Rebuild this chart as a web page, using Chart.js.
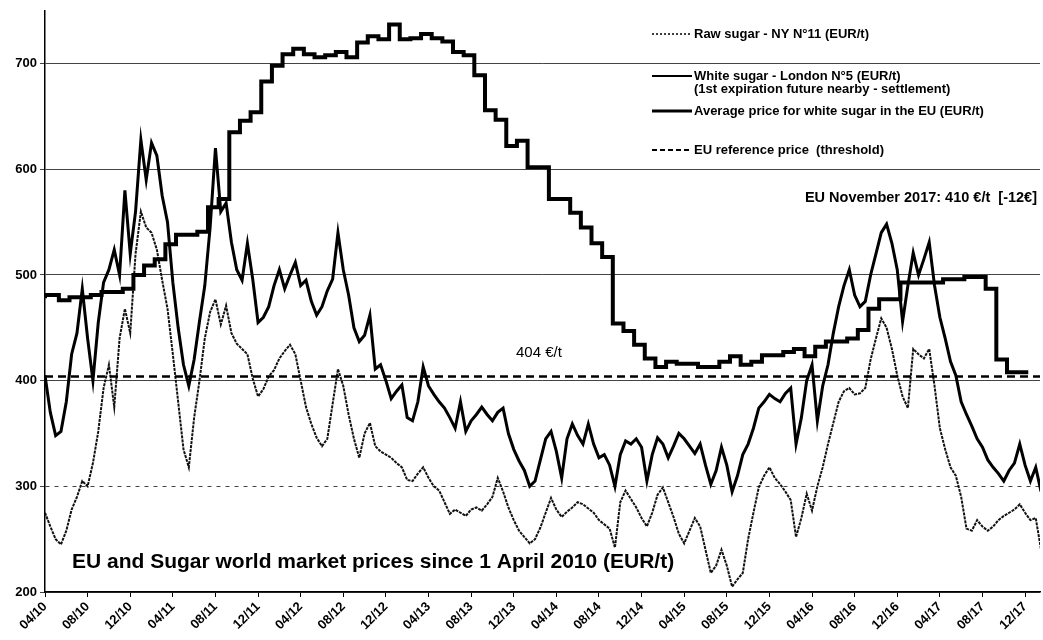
<!DOCTYPE html>
<html>
<head>
<meta charset="utf-8">
<script src="https://cdn.jsdelivr.net/npm/chart.js@4.4.0/dist/chart.umd.js"></script>
<style>
  html, body { margin: 0; padding: 0; background: #fff; }
  #chart { display: block; }
</style>
</head>
<body>
<canvas id="chart" width="1043" height="640"></canvas>
<script>
// x axis: months since 1 April 2010, one tick label every 4 months
const tickLabels = ['04/10', '08/10', '12/10', '04/11', '08/11', '12/11', '04/12', '08/12',
  '12/12', '04/13', '08/13', '12/13', '04/14', '08/14', '12/14', '04/15', '08/15', '12/15',
  '04/16', '08/16', '12/16', '04/17', '08/17', '12/17'];

// White sugar - London N°5 (EUR/t), read twice a month (1st and 16th)
const whiteSugar = [
  405, 370, 348, 352, 380, 425, 445, 487,
  440, 400, 455, 493, 505, 524, 500, 580,
  520, 560, 628, 590, 625, 613, 575, 550,
  493, 450, 415, 395, 420, 456, 490, 545,
  620, 560, 568, 531, 505, 495, 530, 496,
  455, 460, 470, 490, 505, 487, 500, 512,
  490, 495, 475, 462, 470, 485, 496, 540,
  505, 481, 450, 437, 443, 462, 411, 415,
  400, 383, 390, 396, 365, 362, 380, 413,
  395, 387, 380, 374, 365, 355, 380, 352,
  362, 368, 375, 368, 362, 370, 374, 350,
  335, 324, 315, 300, 305, 325, 345, 352,
  333, 308, 345, 359, 348, 340, 359, 340,
  327, 330, 320, 300, 330, 343, 340, 345,
  337, 305, 330, 346, 340, 327, 338, 350,
  345, 338, 331, 340, 320, 302, 315, 337,
  320, 295, 310, 330, 340, 355, 374, 380,
  387, 383, 380, 388, 393, 340, 365, 400,
  415, 362, 395, 415, 445, 470, 490, 505,
  481, 470, 475, 500, 520, 540, 548, 530,
  505, 456, 490, 521, 500, 515, 531, 490,
  460, 440, 418, 405, 380, 368, 357, 345,
  337, 325, 318, 312, 305, 315, 322, 340,
  320, 305, 318, 295
];

// Raw sugar - NY N°11 (EUR/t), same dates
const rawSugar = [
  275, 262, 250, 245, 258, 278, 290, 305,
  300, 322, 352, 393, 415, 375, 440, 468,
  445, 520, 560, 545, 540, 524, 495, 468,
  425, 380, 335, 318, 365, 400, 440, 465,
  477, 453, 471, 445, 435, 430, 425, 402,
  385, 392, 404, 410, 421, 428, 434, 425,
  400, 375, 359, 346, 338, 345, 378, 411,
  395, 368, 345, 327, 350, 360, 338, 333,
  330, 327, 322, 318, 306, 305, 312, 318,
  308, 300, 296, 285, 274, 278, 275, 272,
  278, 280, 277, 283, 290, 308, 295, 280,
  268, 258, 252, 246, 250, 261, 275, 289,
  278, 271, 276, 280, 285, 283, 279, 275,
  268, 264, 260, 242, 285, 296, 288, 280,
  270, 262, 275, 292, 299, 285, 271, 255,
  246, 258, 270, 262, 240, 218, 225, 240,
  225, 205, 212, 218, 250, 275, 299, 310,
  318, 308, 302, 295, 287, 252, 270, 293,
  277, 300, 318, 340, 360, 380, 390, 393,
  387, 388, 393, 420, 440, 459, 450, 430,
  405, 385, 374, 430, 425, 421, 430, 395,
  355, 335, 318, 310, 290, 260, 258, 268,
  262, 258, 262, 268, 272, 275, 278, 283,
  275, 268, 270, 240
];

// Average price for white sugar in the EU (EUR/t), monthly Apr 2010 - Nov 2017
const euAverage = [
  478, 481, 476, 479, 479, 481, 484, 484, 487, 500, 509, 515,
  529, 538, 538, 541, 564, 572, 635, 646, 654, 683, 698, 709,
  714, 709, 706, 708, 711, 706, 720, 726, 723, 737, 723, 724,
  728, 724, 721, 711, 708, 689, 656, 647, 622, 627, 602, 602,
  572, 572, 559, 545, 530, 517, 454, 447, 434, 421, 413, 418,
  416, 416, 413, 413, 418, 423, 415, 418, 424, 424, 427, 430,
  423, 432, 437, 437, 440, 448, 468, 477, 477, 493, 493, 493,
  493, 496, 496, 498, 498, 487, 420, 408
];

const euReference = 404;
const xMax = 93.4;

Chart.defaults.font.family = "'Liberation Sans', Arial, sans-serif";
Chart.defaults.color = '#000';

const halfMonthly = arr => arr.map((v, i) => ({ x: i / 2, y: v }));

// monthly EU steps start a little after the 1st of the month
const euPoints = euAverage.map((v, i) => ({ x: i === 0 ? 0 : i + 0.3, y: v }));
euPoints.push({ x: euAverage.length + 0.3, y: euAverage[euAverage.length - 1] });

const overlay = {
  id: 'overlay',
  beforeDraw(chart) {
    const c = chart.ctx;
    c.save();
    c.fillStyle = '#fff';
    c.fillRect(0, 0, chart.width, chart.height);
    c.restore();
  },
  afterDraw(chart) {
    const c = chart.ctx;
    c.save();
    c.fillStyle = '#000';
    c.strokeStyle = '#000';
    c.textBaseline = 'middle';

    // legend
    const items = [
      { y: 34, width: 1.5, dash: [2, 2], text: ['Raw sugar - NY N°11 (EUR/t)'] },
      { y: 76, width: 2, dash: [], text: ['White sugar - London N°5 (EUR/t)', '(1st expiration future nearby - settlement)'] },
      { y: 111, width: 3, dash: [], text: ['Average price for white sugar in the EU (EUR/t)'] },
      { y: 150, width: 2, dash: [5, 3], text: ['EU reference price  (threshold)'] }
    ];
    c.font = "bold 13px 'Liberation Sans', Arial, sans-serif";
    items.forEach(item => {
      c.beginPath();
      c.setLineDash(item.dash);
      c.lineWidth = item.width;
      c.moveTo(652, item.y);
      c.lineTo(692, item.y);
      c.stroke();
      item.text.forEach((t, k) => c.fillText(t, 694, item.y + k * 13));
    });
    c.setLineDash([]);

    // notes
    c.font = "bold 14.5px 'Liberation Sans', Arial, sans-serif";
    c.textAlign = 'right';
    c.fillText('EU November 2017: 410 €/t  [-12€]', 1037, 198);
    c.textAlign = 'left';
    c.font = "15px 'Liberation Sans', Arial, sans-serif";
    c.fillText('404 €/t', 516, 353);

    // title inside the plot
    c.font = "bold 21px 'Liberation Sans', Arial, sans-serif";
    c.fillText('EU and Sugar world market prices since 1 April 2010 (EUR/t)', 72, 562);
    c.restore();
  }
};

new Chart(document.getElementById('chart'), {
  type: 'line',
  data: {
    datasets: [
      {
        label: 'EU reference price (threshold)',
        data: [{ x: 0, y: euReference }, { x: xMax, y: euReference }],
        borderColor: '#000',
        borderWidth: 2.5,
        borderDash: [8, 5]
      },
      {
        label: 'Average price for white sugar in the EU (EUR/t)',
        data: euPoints,
        borderColor: '#000',
        borderWidth: 4,
        stepped: 'after'
      },
      {
        label: 'White sugar - London N°5 (EUR/t)',
        data: halfMonthly(whiteSugar),
        borderColor: '#000',
        borderWidth: 3
      },
      {
        label: 'Raw sugar - NY N°11 (EUR/t)',
        data: halfMonthly(rawSugar),
        borderColor: '#111',
        borderWidth: 2,
        borderDash: [3, 1]
      }
    ]
  },
  options: {
    responsive: false,
    animation: false,
    layout: { padding: { top: 8, right: 3 } },
    elements: { point: { radius: 0 }, line: { tension: 0, fill: false } },
    plugins: { legend: { display: false }, tooltip: { enabled: false } },
    scales: {
      x: {
        type: 'linear',
        min: 0,
        max: xMax,
        afterFit: scale => { scale.height = 48; },
        afterBuildTicks: scale => { scale.ticks = tickLabels.map((_, i) => ({ value: i * 4 })); },
        ticks: {
          autoSkip: false,
          maxRotation: 45,
          minRotation: 45,
          padding: 2,
          font: { size: 13, weight: 'bold' },
          callback: v => tickLabels[Math.round(v / 4)]
        },
        grid: { drawOnChartArea: false, drawTicks: true, tickLength: 5, color: '#000' },
        border: { display: true, color: '#000', width: 1.5 }
      },
      y: {
        min: 200,
        max: 750,
        afterFit: scale => { scale.width = 45; },
        afterBuildTicks: scale => { scale.ticks = scale.ticks.filter(t => t.value % 100 === 0); },
        ticks: { stepSize: 100, padding: 3, font: { size: 13, weight: 'bold' } },
        grid: { color: '#444', lineWidth: 1, tickLength: 5 },
        border: { display: true, color: '#000', width: 1.5, dash: ctx => (ctx.tick && ctx.tick.value === 300 ? [4, 5] : []) }
      }
    }
  },
  plugins: [overlay]
});
</script>
</body>
</html>
